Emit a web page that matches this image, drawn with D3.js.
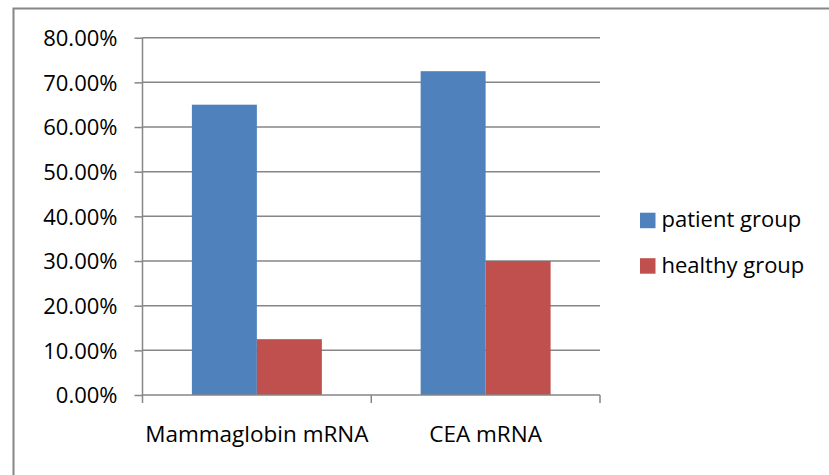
<!DOCTYPE html>
<html><head><meta charset="utf-8">
<script src="https://cdn.jsdelivr.net/npm/d3@7"></script>
<style>body{margin:0;background:#fff;} svg{display:block;} text{font-family:"Open Sans",sans-serif;fill:#000;}</style>
</head><body>
<svg id="c" width="829" height="475"></svg>
<script>
const categories = ["Mammaglobin mRNA", "CEA mRNA"];
const seriesNames = ["patient group", "healthy group"];
const patientValues = [0.65, 0.725];
const healthyValues = [0.125, 0.30];
const yTicks = [0, 0.1, 0.2, 0.3, 0.4, 0.5, 0.6, 0.7, 0.8];
const colors = ["#4F81BD", "#C0504D"];

const svg = d3.select("#c");
const plot = {left: 142.5, right: 600, top: 37.7, bottom: 395};

svg.append("rect").attr("x", 13.5).attr("y", 8.5).attr("width", 840).attr("height", 500)
  .attr("fill", "#fff").attr("stroke", "#868686").attr("stroke-width", 2);

const y = d3.scaleLinear().domain([0, 0.8]).range([plot.bottom, plot.top]);
const x0 = d3.scaleBand().domain(categories).range([plot.left, plot.right]).paddingInner(0).paddingOuter(0);
const x1 = d3.scaleBand().domain(seriesNames).range([0, x0.bandwidth()]).paddingInner(0).paddingOuter(0.76);

// gridlines
svg.append("g").selectAll("line").data(yTicks.slice(1)).join("line")
  .attr("x1", plot.left).attr("x2", plot.right)
  .attr("y1", d => y(d)).attr("y2", d => y(d))
  .attr("stroke", "#868686").attr("stroke-width", 1.5);

// bars
const rows = categories.map((c, i) => ({cat: c, vals: [patientValues[i], healthyValues[i]]}));
const g = svg.append("g").selectAll("g").data(rows).join("g")
  .attr("transform", d => `translate(${x0(d.cat)},0)`);
g.selectAll("rect").data(d => d.vals.map((v, j) => ({s: seriesNames[j], v, j}))).join("rect")
  .attr("x", d => x1(d.s)).attr("width", x1.bandwidth())
  .attr("y", d => y(d.v)).attr("height", d => plot.bottom - y(d.v))
  .attr("fill", d => colors[d.j]);

// y axis
const yAxis = d3.axisLeft(y).tickValues(yTicks).tickFormat(d3.format(".2%")).tickSize(8).tickPadding(17);
const ya = svg.append("g").attr("transform", `translate(${plot.left},0)`).call(yAxis);
ya.select(".domain").attr("stroke", "#868686").attr("stroke-width", 1.5).attr("d", `M0,${plot.top}V${plot.bottom}`);
ya.selectAll(".tick line").attr("stroke", "#868686").attr("stroke-width", 1.5);
ya.selectAll(".tick text").style("font-size", "22px").attr("fill", "#000").attr("dy", "0.36em");

// x axis
const xa = svg.append("g").attr("transform", `translate(0,${plot.bottom})`);
xa.append("line").attr("x1", plot.left).attr("x2", plot.right).attr("y1", 0).attr("y2", 0)
  .attr("stroke", "#868686").attr("stroke-width", 1.5);
const xEdges = [x0(categories[0]), ...categories.map(c => x0(c) + x0.bandwidth())];
xa.selectAll("line.t").data(xEdges).join("line").attr("class", "t")
  .attr("x1", d => d).attr("x2", d => d).attr("y1", 0).attr("y2", 8)
  .attr("stroke", "#868686").attr("stroke-width", 1.5);
xa.selectAll("text").data(categories).join("text")
  .attr("x", d => x0(d) + x0.bandwidth() / 2).attr("y", 47)
  .attr("text-anchor", "middle").style("font-size", "22.5px").text(d => d);

// legend
const lg = svg.append("g").selectAll("g").data(seriesNames).join("g")
  .attr("transform", (d, i) => `translate(640,${212.7 + i * 45.5})`);
lg.append("rect").attr("width", 15.5).attr("height", 15.5).attr("fill", (d, i) => colors[i]);
lg.append("text").attr("x", 21.5).attr("y", 14.5).style("font-size", "22px").text(d => d);
</script>
</body></html>
